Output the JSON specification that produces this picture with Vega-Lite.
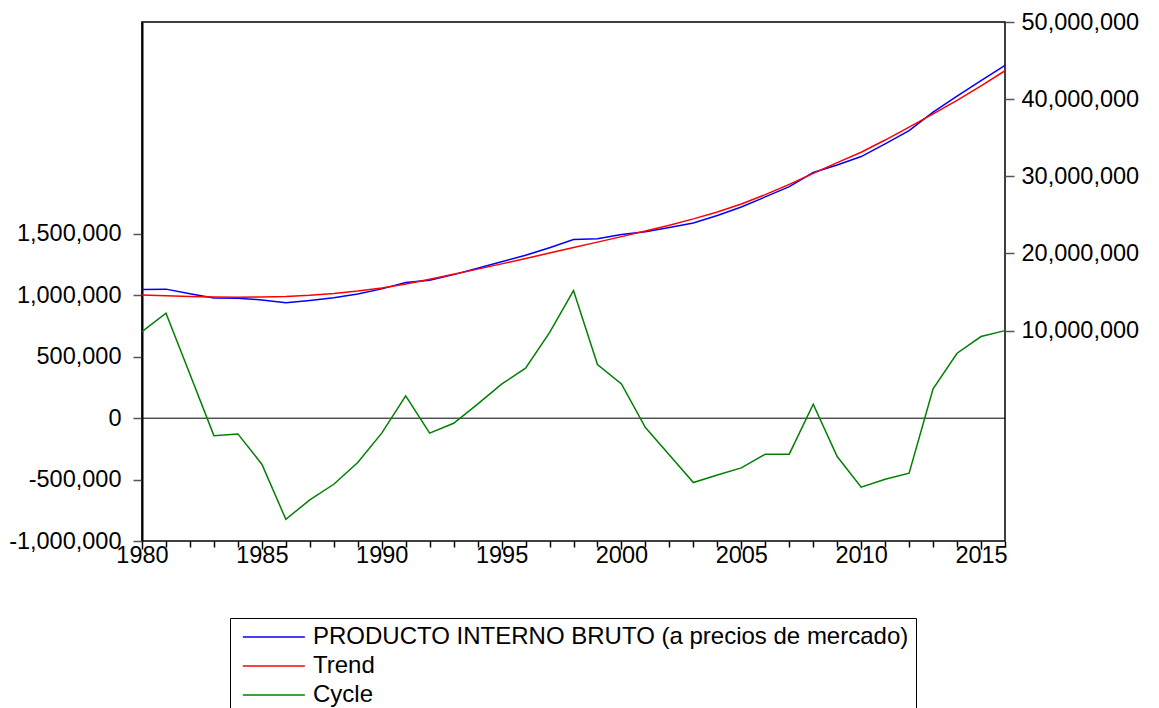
{
  "$schema": "https://vega.github.io/schema/vega-lite/v6.json",
  "width": 863,
  "height": 519,
  "autosize": {"type": "none"},
  "padding": {"left": 142, "top": 22, "right": 154, "bottom": 167},
  "background": "white",
  "config": {
    "locale": {"number": {"decimal": ".", "thousands": ",", "grouping": [3], "currency": ["$", ""], "minus": "-"}},
    "view": {"stroke": "black", "strokeWidth": 1.5},
    "axis": {
      "labelFont": "Liberation Sans",
      "labelFontSize": 23.5,
      "labelColor": "black",
      "tickColor": "#555555",
      "tickWidth": 1.5,
      "grid": false,
      "title": null
    }
  },
  "data": {
    "values": [
      {"year": 1980, "gdp": 15335000, "trend": 14630000, "cycle": 705000},
      {"year": 1981, "gdp": 15375000, "trend": 14520000, "cycle": 855000},
      {"year": 1982, "gdp": 14787000, "trend": 14430000, "cycle": 357000},
      {"year": 1983, "gdp": 14218000, "trend": 14360000, "cycle": -142000},
      {"year": 1984, "gdp": 14202000, "trend": 14330000, "cycle": -128000},
      {"year": 1985, "gdp": 13975000, "trend": 14350000, "cycle": -375000},
      {"year": 1986, "gdp": 13607000, "trend": 14430000, "cycle": -823000},
      {"year": 1987, "gdp": 13915000, "trend": 14580000, "cycle": -665000},
      {"year": 1988, "gdp": 14262000, "trend": 14800000, "cycle": -538000},
      {"year": 1989, "gdp": 14759000, "trend": 15120000, "cycle": -361000},
      {"year": 1990, "gdp": 15408000, "trend": 15530000, "cycle": -122000},
      {"year": 1991, "gdp": 16232000, "trend": 16050000, "cycle": 182000},
      {"year": 1992, "gdp": 16528000, "trend": 16650000, "cycle": -122000},
      {"year": 1993, "gdp": 17259000, "trend": 17300000, "cycle": -41000},
      {"year": 1994, "gdp": 18084000, "trend": 17970000, "cycle": 114000},
      {"year": 1995, "gdp": 18927000, "trend": 18650000, "cycle": 277000},
      {"year": 1996, "gdp": 19757000, "trend": 19350000, "cycle": 407000},
      {"year": 1997, "gdp": 20747000, "trend": 20050000, "cycle": 697000},
      {"year": 1998, "gdp": 21799000, "trend": 20760000, "cycle": 1039000},
      {"year": 1999, "gdp": 21907000, "trend": 21470000, "cycle": 437000},
      {"year": 2000, "gdp": 22459000, "trend": 22180000, "cycle": 279000},
      {"year": 2001, "gdp": 22824000, "trend": 22900000, "cycle": -76000},
      {"year": 2002, "gdp": 23360000, "trend": 23660000, "cycle": -300000},
      {"year": 2003, "gdp": 23956000, "trend": 24480000, "cycle": -524000},
      {"year": 2004, "gdp": 24918000, "trend": 25380000, "cycle": -462000},
      {"year": 2005, "gdp": 26015000, "trend": 26420000, "cycle": -405000},
      {"year": 2006, "gdp": 27327000, "trend": 27620000, "cycle": -293000},
      {"year": 2007, "gdp": 28657000, "trend": 28950000, "cycle": -293000},
      {"year": 2008, "gdp": 30494000, "trend": 30380000, "cycle": 114000},
      {"year": 2009, "gdp": 31468000, "trend": 31780000, "cycle": -312000},
      {"year": 2010, "gdp": 32558000, "trend": 33120000, "cycle": -562000},
      {"year": 2011, "gdp": 34203000, "trend": 34700000, "cycle": -497000},
      {"year": 2012, "gdp": 35932000, "trend": 36380000, "cycle": -448000},
      {"year": 2013, "gdp": 38319000, "trend": 38080000, "cycle": 239000},
      {"year": 2014, "gdp": 40379000, "trend": 39850000, "cycle": 529000},
      {"year": 2015, "gdp": 42395000, "trend": 41730000, "cycle": 665000},
      {"year": 2016, "gdp": 44393000, "trend": 43680000, "cycle": 713000}
    ]
  },
  "transform": [{"fold": ["gdp", "trend", "cycle"], "as": ["series", "value"]}],
  "layer": [
    {
      "transform": [{"filter": "datum.series !== 'cycle'"}],
      "mark": {"type": "line", "strokeWidth": 1.5},
      "encoding": {
        "x": {
          "field": "year",
          "type": "quantitative",
          "scale": {"domain": [1980, 2016], "nice": false, "zero": false},
          "axis": {
            "values": [1980,1981,1982,1983,1984,1985,1986,1987,1988,1989,1990,1991,1992,1993,1994,1995,1996,1997,1998,1999,2000,2001,2002,2003,2004,2005,2006,2007,2008,2009,2010,2011,2012,2013,2014,2015,2016],
            "labelExpr": "datum.value % 5 === 0 ? datum.value + '' : ''",
            "tickSize": {"condition": {"test": "datum.value % 5 === 0", "value": 8}, "value": 6},
            "tickColor": "black",
            "labelPadding": -6,
            "labelOverlap": false,
            "labelBound": false,
            "labelFlush": false,
            "domain": false
          }
        },
        "y": {
          "field": "value",
          "type": "quantitative",
          "scale": {"domain": [-17270000, 50000000], "nice": false, "zero": false},
          "axis": {
            "orient": "right",
            "values": [10000000, 20000000, 30000000, 40000000, 50000000],
            "format": ",.0f",
            "tickSize": 9,
            "labelPadding": 7,
            "domain": false
          }
        },
        "color": {
          "field": "series",
          "type": "nominal",
          "scale": {"domain": ["gdp", "trend", "cycle"], "range": ["#0000FF", "#FF0000", "#008000"]},
          "legend": {
            "orient": "none",
            "legendX": 88,
            "legendY": 596,
            "title": null,
            "direction": "vertical",
            "symbolType": "M-1,0H9",
            "symbolSize": 154,
            "symbolStrokeWidth": 1.5,
            "labelOffset": 52,
            "labelFont": "Liberation Sans",
            "labelFontSize": 24,
            "labelColor": "black",
            "rowPadding": 5,
            "padding": 7,
            "strokeColor": "black",
            "fillColor": "white",
            "labelLimit": 800,
            "labelExpr": "datum.value === 'gdp' ? 'PRODUCTO INTERNO BRUTO (a precios de mercado)' : datum.value === 'trend' ? 'Trend' : 'Cycle'"
          }
        }
      }
    },
    {
      "layer": [
        {
          "data": {"values": [{}]},
          "mark": {"type": "rule", "color": "black", "strokeWidth": 1},
          "encoding": {"y": {"datum": 0, "type": "quantitative"}}
        },
        {
          "transform": [{"filter": "datum.series === 'cycle'"}],
          "mark": {"type": "line", "strokeWidth": 1.5},
          "encoding": {
            "x": {
              "field": "year",
              "type": "quantitative",
              "scale": {"domain": [1980, 2016], "nice": false, "zero": false},
              "axis": {
                "values": [1980,1981,1982,1983,1984,1985,1986,1987,1988,1989,1990,1991,1992,1993,1994,1995,1996,1997,1998,1999,2000,2001,2002,2003,2004,2005,2006,2007,2008,2009,2010,2011,2012,2013,2014,2015,2016],
                "labelExpr": "datum.value % 5 === 0 ? datum.value + '' : ''",
                "tickSize": {"condition": {"test": "datum.value % 5 === 0", "value": 8}, "value": 6},
                "tickColor": "black",
                "labelPadding": -6,
                "labelOverlap": false,
                "labelBound": false,
                "labelFlush": false,
                "domain": false
              }
            },
            "y": {
              "field": "value",
              "type": "quantitative",
              "scale": {"domain": [-1000000, 3226000], "nice": false, "zero": false},
              "axis": {
                "orient": "left",
                "values": [-1000000, -500000, 0, 500000, 1000000, 1500000],
                "format": ",.0f",
                "tickSize": 9,
                "labelPadding": 12,
                "domain": true,
                "domainColor": "black",
                "domainWidth": 2
              }
            },
            "color": {
              "field": "series",
              "type": "nominal",
              "scale": {"domain": ["gdp", "trend", "cycle"], "range": ["#0000FF", "#FF0000", "#008000"]}
            }
          }
        }
      ]
    }
  ],
  "resolve": {"scale": {"y": "independent"}}
}
